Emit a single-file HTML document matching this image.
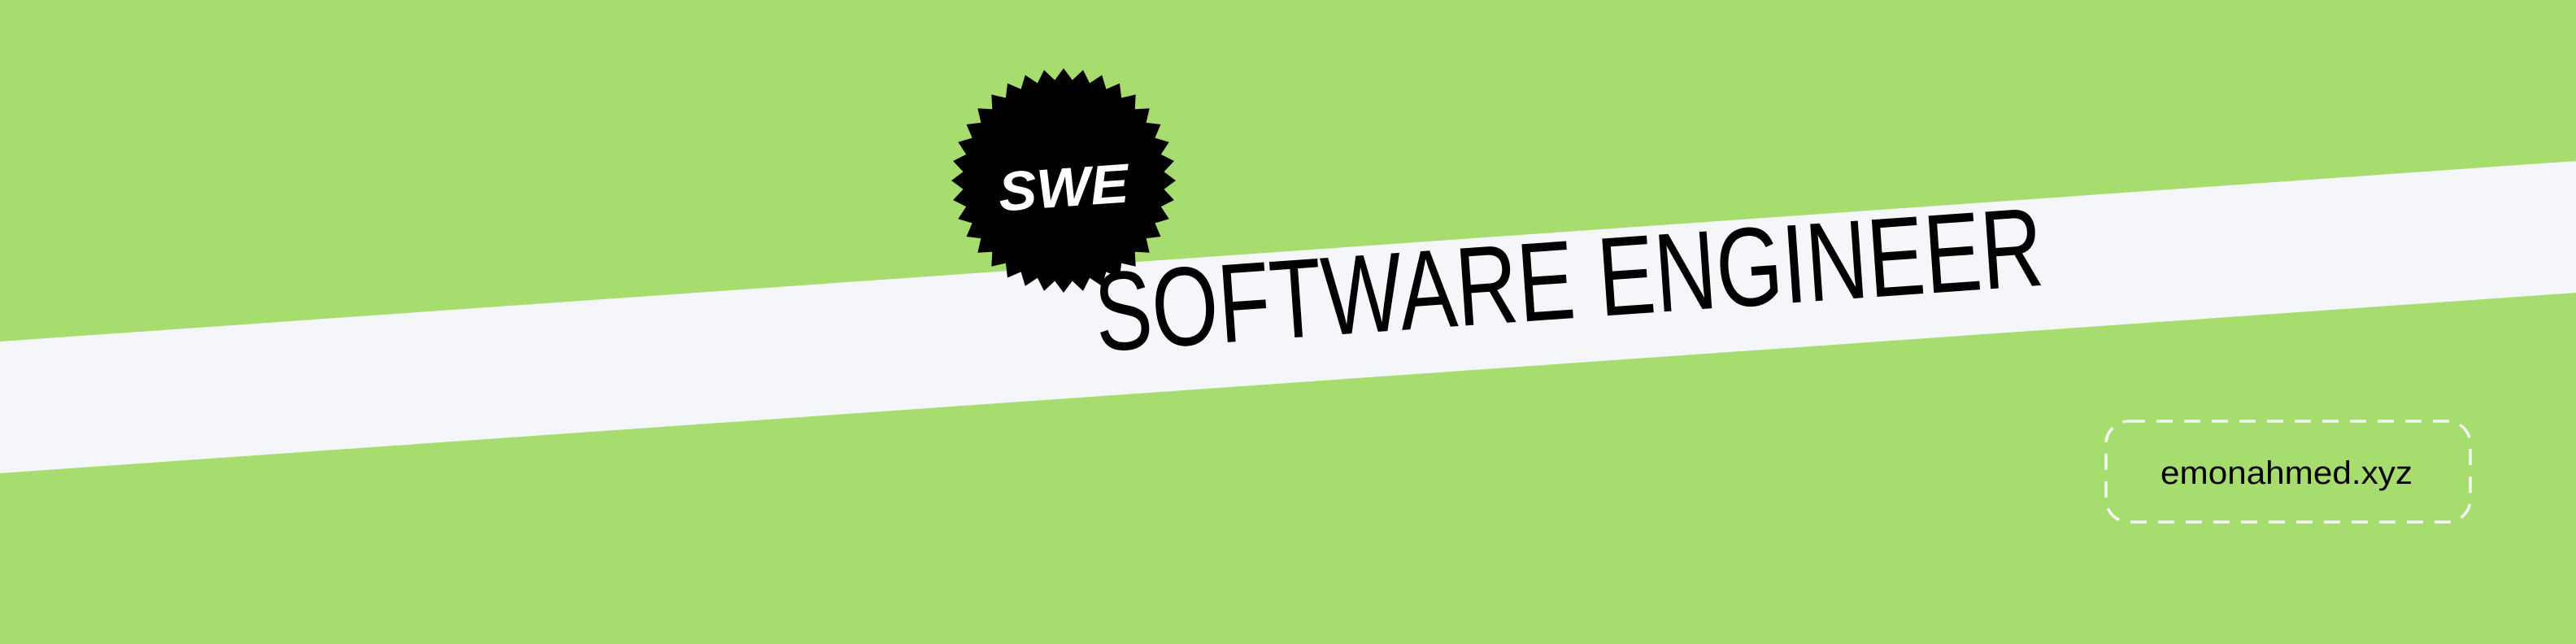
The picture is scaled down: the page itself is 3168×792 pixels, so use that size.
<!DOCTYPE html>
<html><head><meta charset="utf-8"><style>
html,body{margin:0;padding:0;background:#a6dd6e;}
svg{display:block}
</style></head><body>
<svg id="s" width="3168" height="792" viewBox="0 0 3168 792" xmlns="http://www.w3.org/2000/svg">
<rect width="3168" height="792" fill="#a6dd6e"/>
<polygon points="0,420 3168,198 3168,360 0,582" fill="#f5f6fa"/>
<path id="star" fill="#000"/>
<text x="1308" y="254" transform="rotate(-4 1308 234)" text-anchor="middle" font-family="Liberation Sans, sans-serif" font-weight="bold" font-style="italic" font-size="68" fill="#fff" textLength="160" lengthAdjust="spacingAndGlyphs">SWE</text>
<text x="1350" y="432" transform="rotate(-4 1350 432)" font-family="Liberation Sans, sans-serif" font-size="138" fill="#000" textLength="1168" lengthAdjust="spacingAndGlyphs">SOFTWARE ENGINEER</text>
<rect x="2590" y="518" width="448" height="124" rx="28" fill="none" stroke="#f5f6fa" stroke-width="3.5" stroke-dasharray="20 14"/>
<text x="2812" y="595" text-anchor="middle" font-family="Liberation Sans, sans-serif" font-size="40" fill="#000" textLength="310" lengthAdjust="spacingAndGlyphs">emonahmed.xyz</text>
</svg>
<script>
(function(){
var cx=1308,cy=222,R=138,r=124,n=36,d="";
for(var i=0;i<n*2;i++){
var a=Math.PI*i/n - Math.PI/2;
var rad=(i%2==0)?R:r;
var x=cx+rad*Math.cos(a),y=cy+rad*Math.sin(a);
d+=(i==0?"M":"L")+x.toFixed(1)+","+y.toFixed(1);
}
document.getElementById("star").setAttribute("d",d+"Z");
})();
</script>
</body></html>
